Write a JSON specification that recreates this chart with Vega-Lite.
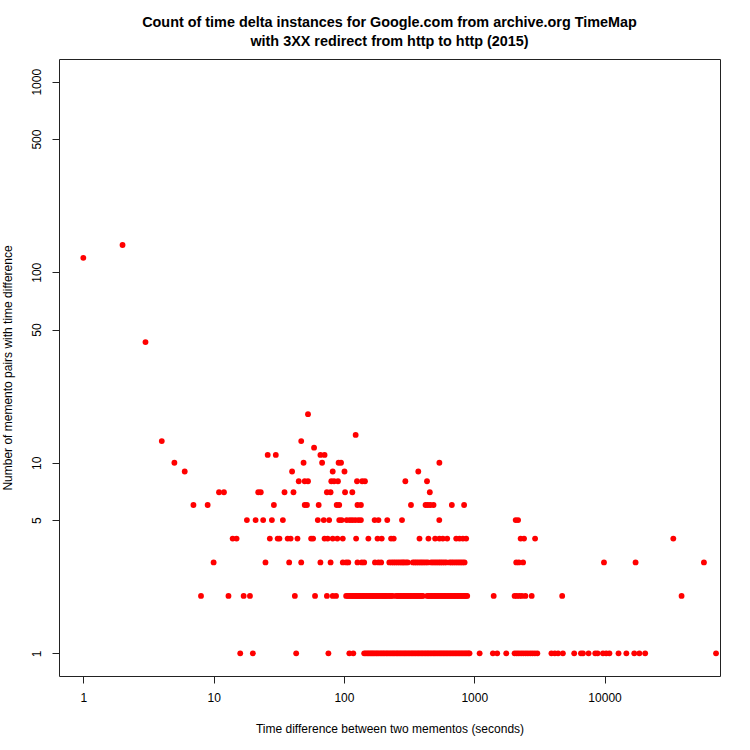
{
  "$schema": "https://vega.github.io/schema/vega-lite/v6.json",
  "width": 661,
  "height": 617,
  "autosize": {"type": "none"},
  "padding": {"left": 59, "top": 59, "right": 30, "bottom": 74},
  "background": "white",
  "title": {
    "text": ["Count of time delta instances for Google.com from archive.org TimeMap", "with 3XX redirect from http to http (2015)"],
    "font": "Liberation Sans",
    "fontSize": 14.4,
    "fontWeight": "bold",
    "lineHeight": 19,
    "color": "black",
    "anchor": "middle",
    "offset": 10
  },
  "data": {
    "values": [
      {"t": 1, "n": 119}, {"t": 2, "n": 139}, {"t": 3, "n": 43},
      {"t": 4, "n": 13}, {"t": 5, "n": 10}, {"t": 6, "n": 9},
      {"t": 53, "n": 18},
      {"t": 123, "n": 14},
      {"t": 47, "n": 13},
      {"t": 59, "n": 12},
      {"t": 26, "n": 11}, {"t": 30, "n": 11}, {"t": 66, "n": 11}, {"t": 71, "n": 11},
      {"t": 49, "n": 10}, {"t": 68, "n": 10}, {"t": 91, "n": 10}, {"t": 95, "n": 10}, {"t": 540, "n": 10},
      {"t": 40, "n": 9}, {"t": 82, "n": 9}, {"t": 101, "n": 9}, {"t": 372, "n": 9},
      {"t": 45, "n": 8}, {"t": 50, "n": 8}, {"t": 53, "n": 8}, {"t": 80, "n": 8}, {"t": 84, "n": 8}, {"t": 90, "n": 8}, {"t": 126, "n": 8}, {"t": 138, "n": 8}, {"t": 145, "n": 8}, {"t": 296, "n": 8}, {"t": 434, "n": 8},
      {"t": 11, "n": 7}, {"t": 12, "n": 7}, {"t": 22, "n": 7}, {"t": 23, "n": 7}, {"t": 35, "n": 7}, {"t": 41, "n": 7}, {"t": 74, "n": 7}, {"t": 79, "n": 7}, {"t": 102, "n": 7}, {"t": 116, "n": 7}, {"t": 456, "n": 7},
      {"t": 7, "n": 6}, {"t": 9, "n": 6}, {"t": 29, "n": 6}, {"t": 50, "n": 6}, {"t": 52, "n": 6}, {"t": 64, "n": 6}, {"t": 88, "n": 6}, {"t": 92, "n": 6}, {"t": 127, "n": 6}, {"t": 135, "n": 6}, {"t": 327, "n": 6}, {"t": 423, "n": 6}, {"t": 440, "n": 6}, {"t": 460, "n": 6}, {"t": 487, "n": 6}, {"t": 673, "n": 6}, {"t": 836, "n": 6},
      {"t": 18, "n": 5}, {"t": 21, "n": 5}, {"t": 24, "n": 5}, {"t": 28, "n": 5}, {"t": 34, "n": 5}, {"t": 63, "n": 5}, {"t": 70, "n": 5}, {"t": 77, "n": 5}, {"t": 92, "n": 5}, {"t": 96, "n": 5}, {"t": 105, "n": 5}, {"t": 111, "n": 5}, {"t": 116, "n": 5}, {"t": 122, "n": 5}, {"t": 129, "n": 5}, {"t": 135, "n": 5}, {"t": 172, "n": 5}, {"t": 184, "n": 5}, {"t": 215, "n": 5}, {"t": 279, "n": 5}, {"t": 539, "n": 5}, {"t": 2080, "n": 5}, {"t": 2170, "n": 5},
      {"t": 14, "n": 4}, {"t": 15, "n": 4}, {"t": 27, "n": 4}, {"t": 31, "n": 4}, {"t": 32, "n": 4}, {"t": 37, "n": 4}, {"t": 39, "n": 4}, {"t": 44, "n": 4}, {"t": 56, "n": 4}, {"t": 58, "n": 4}, {"t": 71, "n": 4}, {"t": 75, "n": 4}, {"t": 82, "n": 4}, {"t": 89, "n": 4}, {"t": 98, "n": 4}, {"t": 124, "n": 4}, {"t": 154, "n": 4}, {"t": 181, "n": 4}, {"t": 195, "n": 4}, {"t": 230, "n": 4}, {"t": 241, "n": 4}, {"t": 380, "n": 4}, {"t": 445, "n": 4}, {"t": 501, "n": 4}, {"t": 541, "n": 4}, {"t": 574, "n": 4}, {"t": 620, "n": 4}, {"t": 727, "n": 4}, {"t": 771, "n": 4}, {"t": 818, "n": 4}, {"t": 867, "n": 4}, {"t": 2270, "n": 4}, {"t": 2410, "n": 4}, {"t": 2930, "n": 4}, {"t": 33700, "n": 4},
      {"t": 10, "n": 3}, {"t": 25, "n": 3}, {"t": 38, "n": 3}, {"t": 47, "n": 3}, {"t": 66, "n": 3}, {"t": 79, "n": 3}, {"t": 98, "n": 3}, {"t": 104, "n": 3}, {"t": 108, "n": 3}, {"t": 127, "n": 3}, {"t": 137, "n": 3}, {"t": 143, "n": 3}, {"t": 173, "n": 3}, {"t": 184, "n": 3}, {"t": 193, "n": 3},
      {"t": 223, "n": 3}, {"t": 232, "n": 3}, {"t": 240, "n": 3}, {"t": 248, "n": 3}, {"t": 257, "n": 3}, {"t": 266, "n": 3}, {"t": 275, "n": 3}, {"t": 283, "n": 3}, {"t": 290, "n": 3}, {"t": 300, "n": 3}, {"t": 309, "n": 3},
      {"t": 338, "n": 3}, {"t": 349, "n": 3}, {"t": 360, "n": 3}, {"t": 372, "n": 3}, {"t": 385, "n": 3}, {"t": 397, "n": 3}, {"t": 410, "n": 3}, {"t": 425, "n": 3}, {"t": 440, "n": 3},
      {"t": 467, "n": 3}, {"t": 483, "n": 3}, {"t": 500, "n": 3}, {"t": 517, "n": 3}, {"t": 535, "n": 3}, {"t": 552, "n": 3}, {"t": 570, "n": 3}, {"t": 590, "n": 3}, {"t": 610, "n": 3},
      {"t": 646, "n": 3}, {"t": 668, "n": 3}, {"t": 690, "n": 3}, {"t": 715, "n": 3}, {"t": 740, "n": 3}, {"t": 765, "n": 3}, {"t": 790, "n": 3}, {"t": 816, "n": 3}, {"t": 843, "n": 3},
      {"t": 2100, "n": 3}, {"t": 2200, "n": 3}, {"t": 2370, "n": 3}, {"t": 9900, "n": 3}, {"t": 17300, "n": 3}, {"t": 57900, "n": 3},
      {"t": 8, "n": 2}, {"t": 13, "n": 2}, {"t": 17, "n": 2}, {"t": 19, "n": 2}, {"t": 42, "n": 2}, {"t": 60, "n": 2}, {"t": 74, "n": 2}, {"t": 82, "n": 2}, {"t": 87, "n": 2},
      {"t": 104, "n": 2}, {"t": 107, "n": 2}, {"t": 110, "n": 2}, {"t": 113, "n": 2}, {"t": 116, "n": 2}, {"t": 119, "n": 2}, {"t": 122, "n": 2}, {"t": 125, "n": 2}, {"t": 128, "n": 2}, {"t": 131, "n": 2}, {"t": 134, "n": 2}, {"t": 138, "n": 2}, {"t": 141, "n": 2}, {"t": 145, "n": 2}, {"t": 149, "n": 2}, {"t": 153, "n": 2}, {"t": 157, "n": 2}, {"t": 161, "n": 2}, {"t": 165, "n": 2}, {"t": 169, "n": 2}, {"t": 173, "n": 2}, {"t": 178, "n": 2}, {"t": 182, "n": 2}, {"t": 187, "n": 2}, {"t": 192, "n": 2}, {"t": 197, "n": 2}, {"t": 202, "n": 2}, {"t": 207, "n": 2}, {"t": 212, "n": 2}, {"t": 218, "n": 2}, {"t": 224, "n": 2}, {"t": 230, "n": 2}, {"t": 237, "n": 2},
      {"t": 251, "n": 2}, {"t": 258, "n": 2}, {"t": 264, "n": 2}, {"t": 271, "n": 2}, {"t": 278, "n": 2}, {"t": 285, "n": 2}, {"t": 292, "n": 2}, {"t": 300, "n": 2}, {"t": 307, "n": 2}, {"t": 315, "n": 2}, {"t": 323, "n": 2}, {"t": 331, "n": 2}, {"t": 340, "n": 2}, {"t": 349, "n": 2}, {"t": 358, "n": 2}, {"t": 367, "n": 2}, {"t": 376, "n": 2}, {"t": 386, "n": 2}, {"t": 395, "n": 2}, {"t": 403, "n": 2},
      {"t": 435, "n": 2}, {"t": 446, "n": 2}, {"t": 457, "n": 2}, {"t": 469, "n": 2}, {"t": 481, "n": 2}, {"t": 493, "n": 2}, {"t": 506, "n": 2}, {"t": 519, "n": 2}, {"t": 532, "n": 2}, {"t": 546, "n": 2}, {"t": 560, "n": 2}, {"t": 574, "n": 2}, {"t": 589, "n": 2}, {"t": 604, "n": 2}, {"t": 620, "n": 2}, {"t": 636, "n": 2}, {"t": 652, "n": 2}, {"t": 669, "n": 2}, {"t": 686, "n": 2}, {"t": 704, "n": 2}, {"t": 722, "n": 2}, {"t": 740, "n": 2}, {"t": 759, "n": 2}, {"t": 779, "n": 2}, {"t": 799, "n": 2}, {"t": 820, "n": 2}, {"t": 841, "n": 2}, {"t": 862, "n": 2}, {"t": 883, "n": 2},
      {"t": 1410, "n": 2}, {"t": 2040, "n": 2}, {"t": 2120, "n": 2}, {"t": 2220, "n": 2}, {"t": 2320, "n": 2}, {"t": 2470, "n": 2}, {"t": 2760, "n": 2}, {"t": 4730, "n": 2}, {"t": 39000, "n": 2},
      {"t": 16, "n": 1}, {"t": 20, "n": 1}, {"t": 43, "n": 1}, {"t": 76, "n": 1}, {"t": 110, "n": 1}, {"t": 118, "n": 1},
      {"t": 143, "n": 1}, {"t": 147, "n": 1}, {"t": 151, "n": 1}, {"t": 155, "n": 1}, {"t": 159, "n": 1}, {"t": 163, "n": 1}, {"t": 167, "n": 1}, {"t": 171, "n": 1}, {"t": 176, "n": 1}, {"t": 180, "n": 1}, {"t": 185, "n": 1}, {"t": 190, "n": 1}, {"t": 195, "n": 1}, {"t": 200, "n": 1}, {"t": 205, "n": 1}, {"t": 211, "n": 1}, {"t": 216, "n": 1}, {"t": 222, "n": 1}, {"t": 228, "n": 1}, {"t": 234, "n": 1}, {"t": 240, "n": 1}, {"t": 246, "n": 1}, {"t": 253, "n": 1}, {"t": 259, "n": 1}, {"t": 266, "n": 1}, {"t": 273, "n": 1}, {"t": 280, "n": 1}, {"t": 288, "n": 1}, {"t": 295, "n": 1}, {"t": 303, "n": 1}, {"t": 311, "n": 1}, {"t": 319, "n": 1}, {"t": 328, "n": 1}, {"t": 336, "n": 1}, {"t": 345, "n": 1}, {"t": 354, "n": 1}, {"t": 364, "n": 1}, {"t": 373, "n": 1}, {"t": 383, "n": 1}, {"t": 393, "n": 1}, {"t": 403, "n": 1}, {"t": 414, "n": 1}, {"t": 425, "n": 1}, {"t": 436, "n": 1}, {"t": 447, "n": 1}, {"t": 459, "n": 1}, {"t": 471, "n": 1}, {"t": 484, "n": 1}, {"t": 496, "n": 1}, {"t": 509, "n": 1}, {"t": 523, "n": 1}, {"t": 537, "n": 1}, {"t": 551, "n": 1}, {"t": 565, "n": 1}, {"t": 580, "n": 1}, {"t": 595, "n": 1}, {"t": 611, "n": 1}, {"t": 627, "n": 1}, {"t": 644, "n": 1}, {"t": 661, "n": 1}, {"t": 678, "n": 1}, {"t": 696, "n": 1}, {"t": 714, "n": 1}, {"t": 733, "n": 1}, {"t": 752, "n": 1}, {"t": 772, "n": 1}, {"t": 792, "n": 1}, {"t": 813, "n": 1}, {"t": 835, "n": 1}, {"t": 857, "n": 1}, {"t": 879, "n": 1}, {"t": 902, "n": 1}, {"t": 920, "n": 1},
      {"t": 1100, "n": 1}, {"t": 1390, "n": 1}, {"t": 1500, "n": 1}, {"t": 1760, "n": 1}, {"t": 2040, "n": 1}, {"t": 2120, "n": 1}, {"t": 2200, "n": 1}, {"t": 2290, "n": 1}, {"t": 2380, "n": 1}, {"t": 2480, "n": 1}, {"t": 2580, "n": 1}, {"t": 2690, "n": 1}, {"t": 2800, "n": 1}, {"t": 2920, "n": 1}, {"t": 3050, "n": 1},
      {"t": 3910, "n": 1}, {"t": 4150, "n": 1}, {"t": 4400, "n": 1}, {"t": 4790, "n": 1}, {"t": 5850, "n": 1}, {"t": 6590, "n": 1}, {"t": 6830, "n": 1}, {"t": 7540, "n": 1}, {"t": 8480, "n": 1}, {"t": 8840, "n": 1}, {"t": 9720, "n": 1}, {"t": 10300, "n": 1}, {"t": 10900, "n": 1}, {"t": 12800, "n": 1}, {"t": 14700, "n": 1}, {"t": 16900, "n": 1}, {"t": 18500, "n": 1}, {"t": 20500, "n": 1}, {"t": 71700, "n": 1}
    ]
  },
  "mark": {"type": "circle", "color": "#ff0000", "opacity": 1, "size": 34},
  "encoding": {
    "x": {
      "field": "t",
      "type": "quantitative",
      "scale": {"type": "log", "domain": [0.6507, 76900], "nice": false},
      "axis": {
        "title": "Time difference between two mementos (seconds)",
        "values": [1, 10, 100, 1000, 10000],
        "format": "d",
        "titlePadding": 20,
        "labelPadding": 9
      }
    },
    "y": {
      "field": "n",
      "type": "quantitative",
      "scale": {"type": "log", "domain": [0.76, 1316], "nice": false},
      "axis": {
        "title": "Number of memento pairs with time difference",
        "values": [1, 5, 10, 50, 100, 500, 1000],
        "format": "d",
        "labelAngle": 270,
        "labelAlign": "center",
        "labelBaseline": "bottom",
        "labelPadding": 9,
        "titlePadding": 16
      }
    }
  },
  "config": {
    "view": {"stroke": "#222222", "strokeWidth": 1},
    "axis": {
      "grid": false,
      "domain": false,
      "ticks": true,
      "tickSize": 7,
      "tickColor": "#222222",
      "labelFont": "Liberation Sans",
      "labelFontSize": 12,
      "labelColor": "black",
      "titleFont": "Liberation Sans",
      "titleFontSize": 12,
      "titleFontWeight": "normal",
      "titleColor": "black",
      "labelOverlap": false,
      "labelFlush": false
    }
  }
}
